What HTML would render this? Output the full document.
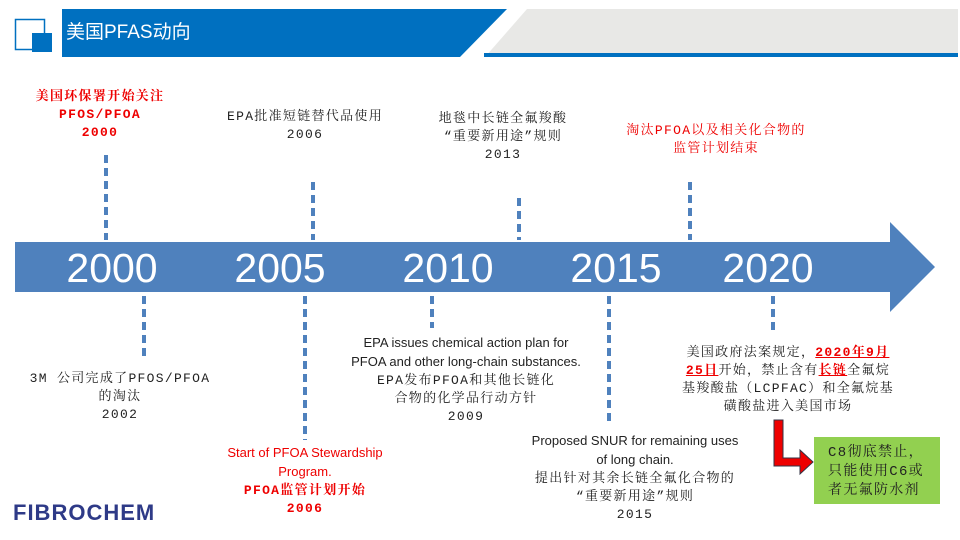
<!DOCTYPE html>
<html><head><meta charset="utf-8"><style>
body{margin:0;width:960px;height:540px;background:#fff;position:relative;overflow:hidden;font-family:"Liberation Mono","Noto Serif CJK SC",serif;}
.t{position:absolute;text-align:center;font-size:13px;line-height:18px;color:#222;white-space:nowrap;transform:translateX(-50%);letter-spacing:1.3px;}
.r{color:#e00;}
.b{font-weight:bold;}
.s{font-family:"Liberation Sans","Noto Sans CJK SC",sans-serif;letter-spacing:0;}
.u{text-decoration:underline;}
</style></head><body>
<svg width="960" height="540" style="position:absolute;left:0;top:0">
<polygon points="62,9 507,9 460,57 62,57" fill="#0070c0"/>
<polygon points="527,9 958,9 958,57 485,57" fill="#e8e8e6"/>
<rect x="484" y="53" width="474" height="4" fill="#0070c0"/>
<rect x="15.5" y="19.5" width="29" height="30" fill="#fff" stroke="#0070c0" stroke-width="1.5"/>
<rect x="32" y="33" width="20" height="19" fill="#0070c0"/>
<polygon points="15,242 890,242 890,222 935,267 890,312 890,292 15,292" fill="#4f81bd"/>
<g stroke="#4f81bd" stroke-width="4" stroke-dasharray="8,5">
<line x1="106" y1="155" x2="106" y2="240"/>
<line x1="313" y1="182" x2="313" y2="240"/>
<line x1="519" y1="198" x2="519" y2="240"/>
<line x1="690" y1="182" x2="690" y2="240"/>
<line x1="144" y1="296" x2="144" y2="360"/>
<line x1="305" y1="296" x2="305" y2="440"/>
<line x1="432" y1="296" x2="432" y2="328"/>
<line x1="609" y1="296" x2="609" y2="422"/>
<line x1="773" y1="296" x2="773" y2="330"/>
</g>
<polygon points="774,420 783,420 783,458 800,458 800,450 813,462 800,474 800,466 774,466" fill="#e00" stroke="#334" stroke-width="1"/>
<rect x="814" y="437" width="126" height="67" fill="#92d050"/>
<g fill="#fff" font-family="Liberation Sans,sans-serif" font-size="41" text-anchor="middle">
<text x="112" y="282">2000</text><text x="280" y="282">2005</text><text x="448" y="282">2010</text><text x="616" y="282">2015</text><text x="768" y="282">2020</text>
</g>
<text x="66" y="38" fill="#fff" font-size="19" font-family="Liberation Sans,Noto Sans CJK SC,sans-serif">美国PFAS动向</text>
<text x="13" y="520" fill="#2e3a87" font-size="22" font-weight="bold" font-family="Liberation Sans,sans-serif" letter-spacing="1">FIBROCHEM</text>
</svg>
<div class="t r b" style="left:100px;top:88px">美国环保署开始关注<br>PFOS/PFOA<br>2000</div>
<div class="t" style="left:305px;top:108px">EPA批准短链替代品使用<br>2006</div>
<div class="t" style="left:503px;top:110px">地毯中长链全氟羧酸<br>“重要新用途”规则<br>2013</div>
<div class="t r" style="left:716px;top:122px">淘汰PFOA以及相关化合物的<br>监管计划结束</div>
<div class="t" style="left:120px;top:370px">3M 公司完成了PFOS/PFOA<br>的淘汰<br>2002</div>
<div class="t r" style="left:305px;top:444px"><span class="s">Start of PFOA Stewardship<br>Program.</span><br><b>PFOA监管计划开始<br>2006</b></div>
<div class="t" style="left:466px;top:334px"><span class="s">EPA issues chemical action plan for<br>PFOA and other long-chain substances.</span><br>EPA发布PFOA和其他长链化<br>合物的化学品行动方针<br>2009</div>
<div class="t" style="left:635px;top:432px"><span class="s">Proposed SNUR for remaining uses<br>of long chain.</span><br>提出针对其余长链全氟化合物的<br>“重要新用途”规则<br>2015</div>
<div class="t" style="left:788px;top:344px">美国政府法案规定，<span class="r b u">2020年9月<br>25日</span>开始，禁止含有<span class="r b u">长链</span>全氟烷<br>基羧酸盐（LCPFAC）和全氟烷基<br>磺酸盐进入美国市场</div>
<div class="t" style="left:876px;top:444px;text-align:left;font-size:14px;line-height:19px">C8彻底禁止，<br>只能使用C6或<br>者无氟防水剂</div>
</body></html>
